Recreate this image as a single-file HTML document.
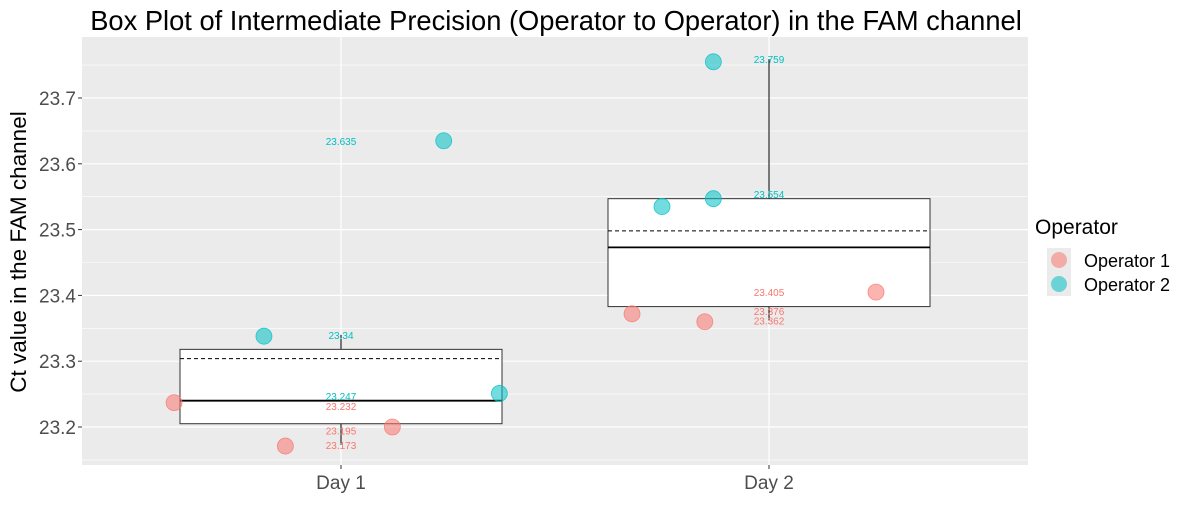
<!DOCTYPE html>
<html><head><meta charset="utf-8"><style>
body{margin:0;background:#fff;font-family:"Liberation Sans",Arial,sans-serif}
svg text{font-family:"Liberation Sans",Arial,sans-serif}
</style></head><body>
<svg id="c" width="1200" height="500">
<text x="556" y="30" font-size="27.3" text-anchor="middle" fill="#000">Box Plot of Intermediate Precision (Operator to Operator) in the FAM channel</text>
<text transform="translate(26,252) rotate(-90)" font-size="22.5" text-anchor="middle" fill="#000">Ct value in the FAM channel</text>
<g id="legend">
<text x="1035" y="234" font-size="21">Operator</text>
<rect x="1047" y="248" width="24" height="24" fill="#ebebeb"/>
<circle cx="1059" cy="260" r="8" fill="#F8766D" fill-opacity="0.55"/>
<text x="1084" y="267" font-size="18">Operator 1</text>
<rect x="1047" y="272" width="24" height="24" fill="#ebebeb"/>
<circle cx="1059" cy="284" r="8" fill="#00BFC4" fill-opacity="0.55"/>
<text x="1084" y="291" font-size="18">Operator 2</text>
</g>
</svg>
<script>
const categories=["Day 1","Day 2"];
const yTicks=[23.2,23.3,23.4,23.5,23.6,23.7];
const boxQ1=[23.205,23.383];
const boxMedian=[23.240,23.473];
const boxQ3=[23.318,23.547];
const boxMean=[23.304,23.498];
const whiskerLow=[23.173,23.362];
const whiskerHigh=[23.340,23.759];
const op1Day=[0,0,0,1,1,1];
const op1Jitter=[-0.39,-0.13,0.12,-0.32,-0.15,0.25];
const op1Values=[23.237,23.171,23.200,23.372,23.360,23.405];
const op2Day=[0,0,0,1,1,1];
const op2Jitter=[-0.18,0.24,0.37,-0.25,-0.13,-0.13];
const op2Values=[23.338,23.635,23.251,23.535,23.547,23.755];
const labelDay=[0,0,0,0,0,0,1,1,1,1,1];
const labelValues=[23.635,23.34,23.247,23.232,23.195,23.173,23.759,23.554,23.405,23.376,23.362];
const labelOp=[2,2,2,1,1,1,2,2,1,1,1];
const labelText=["23.635","23.34","23.247","23.232","23.195","23.173","23.759","23.554","23.405","23.376","23.362"];

const NS="http://www.w3.org/2000/svg";
const svg=document.getElementById('c');
const L=82,R=1028,T=37,B=465;
const y=v=>427-(v-23.2)*658;
const xc=i=>341+i*428;
const xj=(i,j)=>xc(i)+j*(428);
function mk(tag,at,parent){const e=document.createElementNS(NS,tag);for(const k in at)e.setAttribute(k,at[k]);(parent||svg).appendChild(e);return e;}
const g=mk('g',{});


const bg=mk('rect',{x:L,y:T,width:R-L,height:B-T,fill:'#ebebeb'},g);


for(let k=0;k<yTicks.length;k++){
  const v=yTicks[k];
  const ln=mk('line',{x1:L,x2:R,y1:y(v),y2:y(v),stroke:'#fff','stroke-width':1.2},g);
  
  
  const mv=v-0.05;
  const ml=mk('line',{x1:L,x2:R,y1:y(mv),y2:y(mv),stroke:'#fff','stroke-width':0.6},g);
  
  
  const tk=mk('line',{x1:L-4,x2:L,y1:y(v),y2:y(v),stroke:'#333'});
  
  
  const t=mk('text',{x:L-6,y:y(v)+7,'font-size':19,'text-anchor':'end',fill:'#4d4d4d'});
  t.textContent=v.toFixed(1);
  
  
}
const topMinor=mk('line',{x1:L,x2:R,y1:y(23.75),y2:y(23.75),stroke:'#fff','stroke-width':0.6},g);


categories.forEach((c,i)=>{
  const vl=mk('line',{x1:xc(i),x2:xc(i),y1:T,y2:B,stroke:'#fff','stroke-width':1.2},g);
  
  
  const tk=mk('line',{x1:xc(i),x2:xc(i),y1:B,y2:B+4,stroke:'#333'});
  
  
  const t=mk('text',{x:xc(i),y:B+24,'font-size':19,'text-anchor':'middle',fill:'#4d4d4d'});
  t.textContent=c;
  
  
  const hw=161;
  const w1=mk('line',{x1:xc(i),x2:xc(i),y1:y(whiskerHigh[i]),y2:y(boxQ3[i]),stroke:'#000'},g);
  
  
  const w2=mk('line',{x1:xc(i),x2:xc(i),y1:y(boxQ1[i]),y2:y(whiskerLow[i]),stroke:'#000'},g);
  
  
  const bx=mk('rect',{x:xc(i)-hw,y:y(boxQ3[i]),width:hw*2,height:y(boxQ1[i])-y(boxQ3[i]),fill:'#fff',stroke:'#333'},g);
  
  
  const md=mk('line',{x1:xc(i)-hw,x2:xc(i)+hw,y1:y(boxMedian[i]),y2:y(boxMedian[i]),stroke:'#000','stroke-width':1.8},g);
  
  
  const mn=mk('line',{x1:xc(i)-hw,x2:xc(i)+hw,y1:y(boxMean[i]),y2:y(boxMean[i]),stroke:'#000','stroke-dasharray':'4,3'},g);
  
  
});
op1Values.forEach((v,k)=>{
  const p=mk('circle',{cx:xj(op1Day[k],op1Jitter[k]),cy:y(v),r:8,fill:'#F8766D','fill-opacity':0.55,stroke:'#F8766D','stroke-opacity':0.8,'stroke-width':0.8},g);
  
  
});
op2Values.forEach((v,k)=>{
  const p=mk('circle',{cx:xj(op2Day[k],op2Jitter[k]),cy:y(v),r:8,fill:'#00BFC4','fill-opacity':0.55,stroke:'#00BFC4','stroke-opacity':0.8,'stroke-width':0.8},g);
  
  
});
labelValues.forEach((v,k)=>{
  const t=mk('text',{x:xc(labelDay[k]),y:y(v)+4,'font-size':10,'text-anchor':'middle',fill:labelOp[k]===1?'#F8766D':'#00BFC4'},g);
  t.textContent=labelText[k];
  
  
});
</script>
</body></html>
